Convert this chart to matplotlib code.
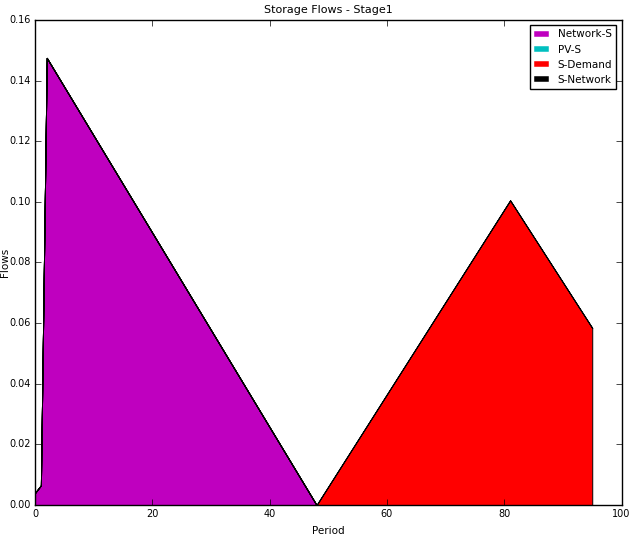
import numpy as np
import matplotlib
matplotlib.use('Agg')
import matplotlib.pyplot as plt

plt.style.use('classic')

# period vertices (straight segments between them)
period = [0, 1, 2, 48, 81, 95]
network_s = [0.004, 0.0065, 0.1475, 0.0, 0.0, 0.0]
pv_s = [0.0, 0.0, 0.0, 0.0, 0.0, 0.0]
s_demand = [0.0, 0.0, 0.0, 0.0, 0.1005, 0.0584]
s_network = [0.0, 0.0, 0.0, 0.0, 0.0, 0.0]

labels = ['Network-S', 'PV-S', 'S-Demand', 'S-Network']
colors = ['m', 'c', 'r', 'k']

fig = plt.figure(figsize=(6.3, 5.36), dpi=100, facecolor='white')
ax = fig.add_axes([0.0556, 0.0578, 0.931, 0.905])

ax.stackplot(period, network_s, pv_s, s_demand, s_network,
             colors=colors, linewidth=0.7, edgecolor='k')

# proxy lines for the legend
for lab, col in zip(labels, colors):
    ax.plot([], [], color=col, label=lab, linewidth=4)

ax.set_xlim(0, 100)
ax.set_ylim(0, 0.16)
ax.set_xticks(np.arange(0, 101, 20))
ax.set_yticks(np.arange(0, 0.161, 0.02))
ax.yaxis.set_major_formatter(plt.FormatStrFormatter('%.2f'))
ax.tick_params(labelsize=7, pad=3)

ax.set_xlabel('Period', fontsize=7.5)
ax.set_ylabel('Flows', fontsize=7.5)
ax.yaxis.set_label_coords(-0.042, 0.5)
ax.set_title('Storage Flows - Stage1', fontsize=8)
ax.legend(loc='upper right', fontsize=7.5, handlelength=1.5)

fig.savefig('out.png', dpi=100, facecolor='white')
